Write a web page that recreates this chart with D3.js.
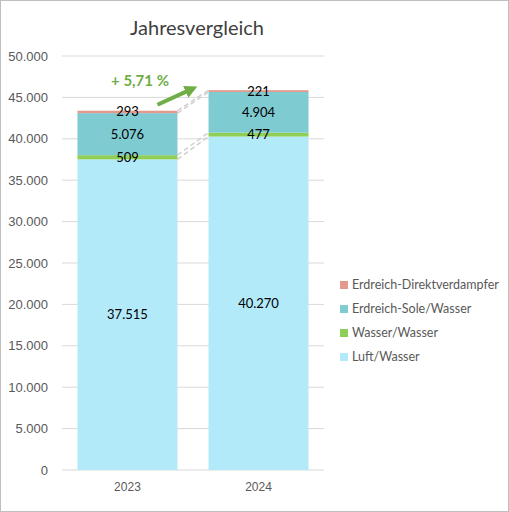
<!DOCTYPE html>
<html>
<head>
<meta charset="utf-8">
<script src="https://cdn.jsdelivr.net/npm/d3@7"></script>
<style>
  body { margin: 0; background: #fff; }
  svg { font-family: Lato, "Open Sans", sans-serif; }
</style>
</head>
<body>
<svg id="chart"></svg>
<script>
// data
const years = ['2023', '2024'];
const seriesNames = ['Luft/Wasser', 'Wasser/Wasser', 'Erdreich-Sole/Wasser', 'Erdreich-Direktverdampfer'];
const luftWasser = [37515, 40270];
const wasserWasser = [509, 477];
const soleWasser = [5076, 4904];
const direktVerdampfer = [293, 221];
const yTicks = [0, 5000, 10000, 15000, 20000, 25000, 30000, 35000, 40000, 45000, 50000];
const growthLabel = '+ 5,71 %';

const colors = ['#b3eafa', '#8fcf55', '#7fcbd2', '#e39a8c'];

const W = 509, H = 512;
const margin = {top: 56, left: 62, bottom: 42};
const plotRight = 324;

const svg = d3.select('#chart').attr('width', W).attr('height', H);

svg.append('rect')
  .attr('x', 0.5).attr('y', 0.5)
  .attr('width', W - 1).attr('height', H - 1)
  .attr('fill', '#fff').attr('stroke', '#bfbfbf');

const table = years.map((y, i) => ({
  year: y,
  'Luft/Wasser': luftWasser[i],
  'Wasser/Wasser': wasserWasser[i],
  'Erdreich-Sole/Wasser': soleWasser[i],
  'Erdreich-Direktverdampfer': direktVerdampfer[i]
}));

const stacked = d3.stack().keys(seriesNames)(table);

const x = d3.scaleBand()
  .domain(years)
  .range([margin.left, plotRight])
  .paddingInner(0.237)
  .paddingOuter(0.118);

const y = d3.scaleLinear()
  .domain([0, 50000])
  .range([H - margin.bottom, margin.top]);

const fmt = d3.formatLocale({decimal: ',', thousands: '.', grouping: [3], currency: ['', '€']}).format(',');

// gridlines
svg.append('g')
  .selectAll('line')
  .data(yTicks)
  .enter()
  .append('line')
    .attr('x1', margin.left).attr('x2', plotRight)
    .attr('y1', d => y(d)).attr('y2', d => y(d))
    .attr('stroke', '#d9d9d9').attr('stroke-width', 1);

// y axis labels
const yAxis = d3.axisLeft(y).tickValues(yTicks).tickFormat(fmt).tickSize(0).tickPadding(14);
const yAxisGroup = svg.append('g')
  .attr('transform', `translate(${margin.left},0)`)
  .call(yAxis);
yAxisGroup.select('.domain').remove();
yAxisGroup.selectAll('text')
  .attr('fill', '#595959')
  .style('font-size', '13px');

// x axis labels
const xAxis = d3.axisBottom(x).tickSize(0).tickPadding(12);
const xAxisGroup = svg.append('g')
  .attr('transform', `translate(0,${y(0)})`)
  .call(xAxis);
xAxisGroup.select('.domain').remove();
xAxisGroup.selectAll('text')
  .attr('fill', '#595959')
  .style('font-size', '12px');

// series lines between the bars
svg.append('g')
  .selectAll('line')
  .data(stacked)
  .enter()
  .append('line')
    .attr('x1', x(years[0]) + x.bandwidth())
    .attr('x2', x(years[1]))
    .attr('y1', d => y(d[0][1]))
    .attr('y2', d => y(d[1][1]))
    .attr('stroke', '#d0d0d0')
    .attr('stroke-width', 1.5)
    .attr('stroke-dasharray', '5,3');

// bars
svg.append('g')
  .selectAll('g')
  .data(stacked)
  .enter()
  .append('g')
    .attr('fill', (d, i) => colors[i])
    .selectAll('rect')
    .data(d => d)
    .enter()
    .append('rect')
      .attr('x', d => x(d.data.year))
      .attr('y', d => y(d[1]))
      .attr('width', x.bandwidth())
      .attr('height', d => y(d[0]) - y(d[1]));

// data labels
svg.append('g')
  .selectAll('g')
  .data(stacked)
  .enter()
  .append('g')
    .selectAll('text')
    .data(d => d.map(v => ({v: v, val: v[1] - v[0]})))
    .enter()
    .append('text')
      .attr('x', d => x(d.v.data.year) + x.bandwidth() / 2)
      .attr('y', d => y((d.v[0] + d.v[1]) / 2))
      .attr('dy', '0.35em')
      .attr('text-anchor', 'middle')
      .attr('fill', '#000')
      .style('font-size', '13px')
      .text(d => fmt(d.val));

// growth arrow
const defs = svg.append('defs');
defs.append('marker')
  .attr('id', 'arrowHead')
  .attr('viewBox', '0 0 10 10')
  .attr('refX', 5).attr('refY', 5)
  .attr('markerWidth', 3.2).attr('markerHeight', 3.2)
  .attr('orient', 'auto')
  .append('path')
    .attr('d', 'M0,0 L10,5 L0,10 z')
    .attr('fill', '#70ad47');

const tot0 = d3.sum(stacked, s => s[0][1] - s[0][0]);
const tot1 = d3.sum(stacked, s => s[1][1] - s[1][0]);

svg.append('line')
  .attr('x1', x(years[0]) + x.bandwidth() - 20)
  .attr('y1', y(tot0) - 6)
  .attr('x2', x(years[1]) - 17)
  .attr('y2', y(tot1) - 1)
  .attr('stroke', '#70ad47')
  .attr('stroke-width', 4)
  .attr('marker-end', 'url(#arrowHead)');

svg.append('text')
  .attr('x', 140)
  .attr('y', 81)
  .attr('dy', '0.35em')
  .attr('text-anchor', 'middle')
  .attr('fill', '#70ad47')
  .style('font-size', '15px')
  .style('font-weight', 'bold')
  .text(growthLabel);

// title
svg.append('text')
  .attr('x', 197)
  .attr('y', 35)
  .attr('text-anchor', 'middle')
  .attr('fill', '#404040')
  .style('font-size', '20px')
  .text('Jahresvergleich');

// legend (reversed order, top is last series)
const legend = svg.append('g')
  .selectAll('g')
  .data(seriesNames.slice().reverse())
  .enter()
  .append('g')
    .attr('transform', (d, i) => `translate(340,${285 + i * 24})`);

legend.append('rect')
  .attr('x', 0).attr('y', -4)
  .attr('width', 8).attr('height', 8)
  .attr('fill', d => colors[seriesNames.indexOf(d)]);

legend.append('text')
  .attr('x', 12)
  .attr('dy', '0.35em')
  .attr('fill', '#595959')
  .style('font-size', '12.5px')
  .text(d => d);
</script>
</body>
</html>
